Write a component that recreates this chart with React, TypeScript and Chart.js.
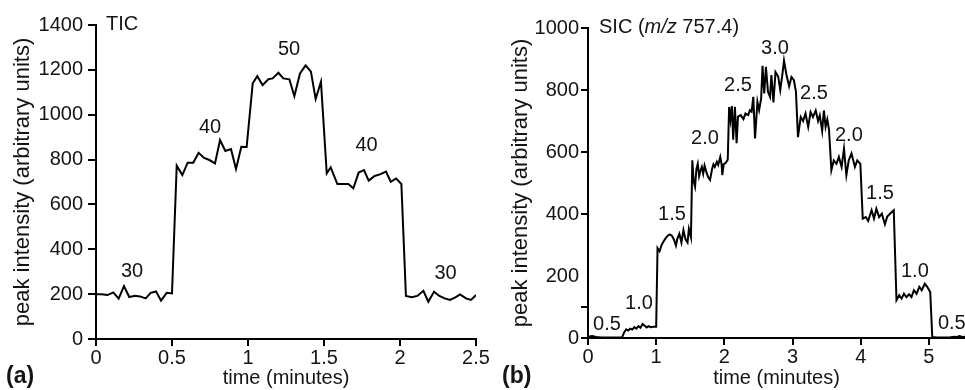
import React, { useEffect, useRef } from 'react';
import { Chart, registerables } from 'chart.js';

Chart.register(...registerables);

const FONT = '"Liberation Sans", Arial, Helvetica, sans-serif';
const INK = '#141414';

// ---------- Panel (a): TIC ----------
const ticTime = [0, 0.037, 0.075, 0.114, 0.149, 0.184, 0.219, 0.257, 0.289, 0.327, 0.36, 0.395, 0.428, 0.465, 0.5,
  0.531, 0.568, 0.603, 0.64, 0.675, 0.711, 0.746, 0.783, 0.816, 0.851, 0.888, 0.921, 0.956, 0.991,
  1.031, 1.061, 1.096, 1.134, 1.162, 1.2, 1.232, 1.272, 1.305, 1.342, 1.379, 1.414, 1.445, 1.48,
  1.518, 1.544, 1.588, 1.627, 1.66, 1.693, 1.728, 1.763, 1.794, 1.833, 1.868, 1.908, 1.939, 1.974, 2.009,
  2.039, 2.077, 2.114, 2.154, 2.186, 2.224, 2.259, 2.294, 2.329, 2.364, 2.395, 2.434, 2.467, 2.5];
const ticValue = [200, 200, 196, 208, 180, 236, 187, 193, 190, 181, 206, 212, 171, 206, 203,
  773, 731, 786, 786, 830, 807, 798, 783, 887, 838, 847, 758, 857, 856,
  1140, 1172, 1132, 1158, 1162, 1187, 1162, 1158, 1083, 1184, 1220, 1192, 1070, 1147,
  739, 765, 691, 691, 691, 672, 742, 753, 706, 727, 734, 746, 701, 716, 691,
  192, 186, 192, 215, 166, 211, 192, 181, 174, 186, 199, 181, 174, 196];
const ticXTicks = [0, 0.5, 1, 1.5, 2, 2.5];
const ticYTicks = [0, 200, 400, 600, 800, 1000, 1200, 1400];
const ticLabelText = ['30', '40', '50', '40', '30'];
const ticLabelTime = [0.237, 0.75, 1.27, 1.78, 2.3];
const ticLabelValue = [300, 941, 1293, 865, 290];

// ---------- Panel (b): SIC m/z 757.4 ----------
const sicTime = [0, 0.06, 0.12, 0.2, 0.3, 0.4, 0.5,
  0.53, 0.56, 0.59, 0.62, 0.65, 0.68, 0.71, 0.74, 0.77, 0.8, 0.83, 0.86, 0.89, 0.92, 0.96, 1.0,
  1.02, 1.05, 1.08, 1.11, 1.14, 1.17, 1.2, 1.23, 1.26, 1.29, 1.31, 1.34, 1.37, 1.4, 1.43, 1.46, 1.48, 1.51,
  1.53, 1.55, 1.57, 1.59, 1.61, 1.63, 1.65, 1.67, 1.69, 1.71, 1.73, 1.76, 1.79, 1.82, 1.84, 1.86, 1.89, 1.91, 1.94, 1.96, 1.97, 1.99, 2.02, 2.05,
  2.07, 2.09, 2.11, 2.13, 2.155, 2.18, 2.2, 2.24, 2.28, 2.31, 2.35, 2.375, 2.4, 2.425, 2.45, 2.485, 2.51, 2.54,
  2.56, 2.585, 2.61, 2.64, 2.67, 2.69, 2.72, 2.75, 2.79, 2.82, 2.85, 2.875, 2.91, 2.95, 2.985, 3.02, 3.05,
  3.08, 3.12, 3.155, 3.19, 3.23, 3.265, 3.3, 3.34, 3.375, 3.4, 3.435, 3.46, 3.485, 3.51, 3.535,
  3.57, 3.605, 3.645, 3.68, 3.72, 3.755, 3.79, 3.825, 3.865, 3.915, 3.95, 3.995,
  4.03, 4.075, 4.11, 4.16, 4.195, 4.23, 4.27, 4.31, 4.355, 4.39, 4.43, 4.485,
  4.525, 4.565, 4.6, 4.635, 4.67, 4.71, 4.745, 4.78, 4.82, 4.86, 4.895, 4.94, 4.975, 5.02,
  5.05, 5.12, 5.2, 5.3, 5.37, 5.41, 5.45, 5.49, 5.53];
const sicValue = [4, 6, 3, 2, 2, 2, 2,
  18, 28, 24, 30, 27, 35, 30, 38, 33, 45, 40, 34, 38, 35, 36, 36,
  290, 280, 300, 312, 322, 330, 334, 330, 318, 298, 320, 336, 308, 348, 318, 308, 352, 325,
  573, 505, 488, 545, 562, 522, 540, 552, 530, 556, 540, 520, 510, 545, 560, 552, 568, 558, 584, 560, 525, 560, 565, 575,
  745, 705, 748, 640, 746, 628, 714, 719, 706, 724, 719, 735, 730, 778, 644, 762, 735, 773,
  878, 789, 875, 794, 778, 848, 760, 858, 843, 800, 848, 895, 850, 812, 842, 832, 795,
  648, 713, 700, 724, 681, 729, 713, 734, 700, 718, 668, 734, 681, 705, 672,
  541, 573, 562, 584, 552, 611, 525, 573, 595, 552, 573, 562,
  385, 390, 378, 412, 385, 417, 390, 401, 367, 392, 401, 412,
  122, 138, 127, 143, 132, 141, 132, 154, 143, 165, 154, 175, 165, 148,
  3, 2, 2, 2, 4, 3, 6, 3, 4];
const sicXTicks = [0, 1, 2, 3, 4, 5];
const sicYTicks = [0, 100, 200, 400, 600, 800, 1000];
const sicLabelText = ['0.5', '1.0', '1.5', '2.0', '2.5', '3.0', '2.5', '2.0', '1.5', '1.0', '0.5'];
const sicLabelTime = [0.279, 0.748, 1.232, 1.716, 2.199, 2.742, 3.314, 3.827, 4.282, 4.795, 5.337];
const sicLabelValue = [42, 110, 400, 645, 813, 935, 790, 652, 465, 213, 48];

type Part = { text: string; italic?: boolean };

function annotPlugin(texts: string[], times: number[], values: number[], heading: Part[], headDx: number, tag: string, tagX: number) {
  return {
    id: 'annot',
    afterDraw(chart: any) {
      const ctx = chart.ctx;
      const xs = chart.scales.x;
      const ys = chart.scales.y;
      const area = chart.chartArea;
      ctx.save();
      ctx.fillStyle = INK;
      ctx.textBaseline = 'middle';
      ctx.textAlign = 'center';
      ctx.font = `20px ${FONT}`;
      texts.forEach((t, i) => {
        ctx.fillText(t, xs.getPixelForValue(times[i]), ys.getPixelForValue(values[i]));
      });
      // heading
      ctx.textAlign = 'left';
      let x = area.left + headDx;
      const y = area.top - 1;
      heading.forEach((p) => {
        ctx.font = `${p.italic ? 'italic ' : ''}20px ${FONT}`;
        ctx.fillText(p.text, x, y);
        x += ctx.measureText(p.text).width;
      });
      // panel tag
      ctx.font = `bold 23px ${FONT}`;
      ctx.fillText(tag, tagX, chart.height - 13);
      ctx.restore();
    },
  };
}

function axisBase(fontSize: number) {
  return {
    grid: { drawOnChartArea: false, drawTicks: true, color: '#000', lineWidth: 2 },
    border: { display: true, color: '#000', width: 2 },
    ticks: { font: { family: FONT, size: fontSize }, color: INK, autoSkip: false, maxRotation: 0 },
  };
}

function buildConfig(p: {
  time: number[]; value: number[]; xMax: number; yMax: number; xTicks: number[]; yTicks: number[];
  padTop: number; padRight: number; yWidth: number; xHeight: number; yTitlePad: number;
  yTickLen: number; yTickPad: number; hideLabel?: number; hideTick?: number; plugin: any;
}) {
  const xb = axisBase(20);
  const yb = axisBase(20);
  return {
    type: 'line',
    data: {
      datasets: [{
        data: p.time.map((t, i) => ({ x: t, y: p.value[i] })),
        borderColor: '#000', borderWidth: 2, pointRadius: 0, tension: 0, fill: false,
        borderJoinStyle: 'miter',
      }],
    },
    options: {
      responsive: false,
      animation: false,
      devicePixelRatio: 1,
      events: [],
      layout: { padding: { top: p.padTop, right: p.padRight, left: 0, bottom: 0 }, autoPadding: false },
      plugins: { legend: { display: false }, tooltip: { enabled: false }, title: { display: false } },
      scales: {
        x: {
          type: 'linear', min: 0, max: p.xMax,
          afterBuildTicks: (s: any) => { s.ticks = p.xTicks.map((v) => ({ value: v })); },
          afterFit: (s: any) => { s.height = p.xHeight; },
          grid: { ...xb.grid, tickLength: 7 },
          border: xb.border,
          ticks: { ...xb.ticks, padding: 0, callback: (v: number) => String(v) },
          title: { display: true, text: 'time (minutes)', color: INK, font: { family: FONT, size: 20 }, padding: { top: 0, bottom: 0 } },
        },
        y: {
          type: 'linear', min: 0, max: p.yMax,
          afterBuildTicks: (s: any) => { s.ticks = p.yTicks.map((v) => ({ value: v })); },
          afterFit: (s: any) => { s.width = p.yWidth; },
          grid: {
            ...yb.grid, tickLength: p.yTickLen,
            tickColor: (c: any) => (c.tick && c.tick.value === p.hideTick ? 'rgba(0,0,0,0)' : '#000'),
          },
          border: yb.border,
          ticks: { ...yb.ticks, padding: p.yTickPad, callback: (v: number) => (v === p.hideLabel ? '' : String(v)) },
          title: { display: true, text: 'peak intensity (arbitrary units)', color: INK, font: { family: FONT, size: 22 }, padding: { top: p.yTitlePad, bottom: 0 } },
        },
      },
    },
    plugins: [p.plugin],
  };
}

function Panel(props: { left: number; width: number; config: any }) {
  const ref = useRef<HTMLCanvasElement | null>(null);
  useEffect(() => {
    if (!ref.current) return;
    const chart = new Chart(ref.current, props.config);
    return () => chart.destroy();
  }, []);
  return (
    <canvas
      ref={ref}
      width={props.width}
      height={390}
      style={{ position: 'absolute', left: props.left, top: 0, width: props.width, height: 390 }}
    />
  );
}

export default function App() {
  const leftCfg = buildConfig({
    time: ticTime, value: ticValue, xMax: 2.5, yMax: 1400, xTicks: ticXTicks, yTicks: ticYTicks,
    padTop: 25, padRight: 14, yWidth: 96, xHeight: 51, yTitlePad: 10, yTickLen: 8, yTickPad: 5,
    plugin: annotPlugin(ticLabelText, ticLabelTime, ticLabelValue, [{ text: 'TIC' }], 10, '(a)', 6),
  });
  const rightCfg = buildConfig({
    time: sicTime, value: sicValue, xMax: 5.53, yMax: 1000, xTicks: sicXTicks, yTicks: sicYTicks,
    padTop: 28, padRight: 0, yWidth: 98, xHeight: 52, yTitlePad: 18, yTickLen: 7, yTickPad: 2,
    hideLabel: 100, hideTick: 200,
    plugin: annotPlugin(sicLabelText, sicLabelTime, sicLabelValue,
      [{ text: 'SIC (' }, { text: 'm/z', italic: true }, { text: ' 757.4)' }], 11, '(b)', 12),
  });
  return (
    <div style={{ position: 'absolute', left: 0, top: 0, width: 965, height: 390, background: '#fff', overflow: 'hidden' }}>
      <Panel left={0} width={490} config={leftCfg} />
      <Panel left={490} width={475} config={rightCfg} />
    </div>
  );
}
